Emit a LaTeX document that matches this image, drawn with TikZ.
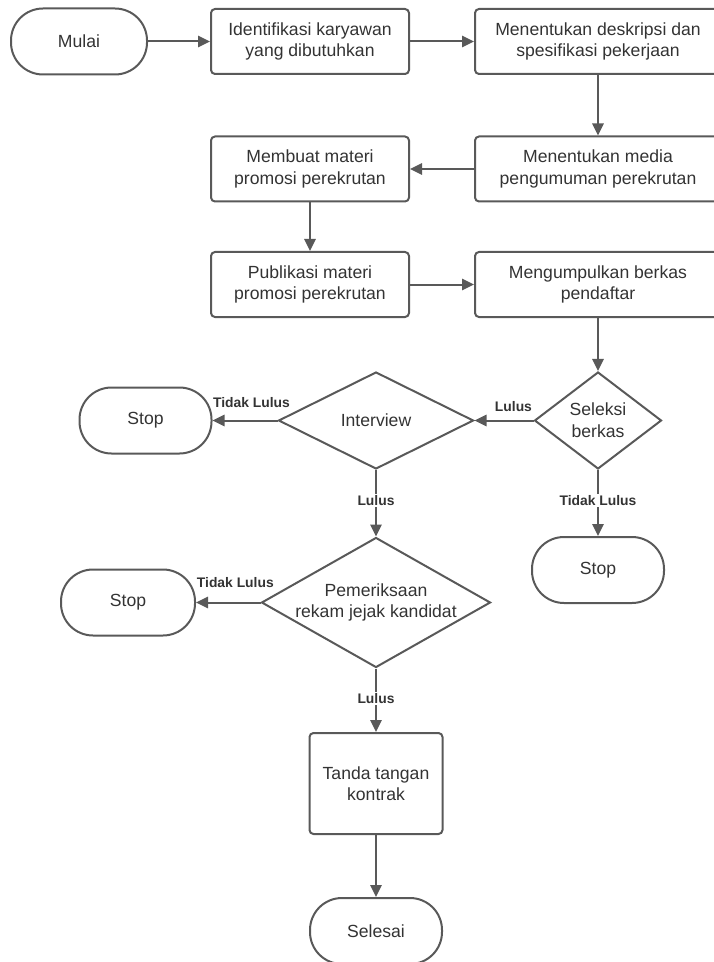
\documentclass[tikz,border=0pt]{standalone}
\usepackage{fontspec}
\setmainfont{Liberation Sans}
\usepackage{tikz}
\usetikzlibrary{shapes.geometric}
\usetikzlibrary{arrows.meta}
\definecolor{garis}{HTML}{595959}
\definecolor{teks}{HTML}{333333}

\begin{document}
\begin{tikzpicture}[
x=0.75pt,y=-0.75pt,
kotak/.style={draw=garis,line width=1.5pt,text=teks,align=center,inner sep=0pt,font=\fontsize{13.2}{16.2}\selectfont},
term/.style={kotak,rectangle,rounded corners=24pt,minimum width=99pt,minimum height=49.5pt},
proses/.style={kotak,rectangle,rounded corners=3pt,minimum width=148.5pt,minimum height=48.75pt},
lebar/.style={proses,minimum width=184.5pt},
putusan/.style={kotak,diamond,aspect=1.6},
lbl/.style={text=teks,inner sep=1pt,font=\bfseries\fontsize{10.4}{12}\selectfont},
panah/.style={draw=garis,line width=1.5pt,-{Triangle[length=9pt,width=8.5pt]}},
]
\useasboundingbox (0,0) rectangle (713,962);

% baris atas
\node[term,minimum width=102pt] (mulai) at (79,41.5) {Mulai};
\node[proses] (ident) at (310,41.5) {Identifikasi karyawan\\yang dibutuhkan};
\node[lebar] (desk) at (598,41.5) {Menentukan deskripsi dan\\spesifikasi pekerjaan};
\node[lebar] (media) at (598,169) {Menentukan media\\pengumuman perekrutan};
\node[proses] (buat) at (310,169) {Membuat materi\\promosi perekrutan};
\node[proses] (publik) at (310,284.5) {Publikasi materi\\promosi perekrutan};
\node[lebar] (kumpul) at (598,284.5) {Mengumpulkan berkas\\pendaftar};

% seleksi
\node[putusan,minimum width=95.25pt,minimum height=72.75pt] (seleksi) at (598,420.5) {Seleksi\\berkas};
\node[putusan,minimum width=146.25pt,minimum height=72.75pt] (interview) at (376,420.5) {Interview};
\node[term] (stopa) at (145.5,420.5) {Stop};
\node[term] (stopb) at (598,570) {Stop};
\node[putusan,aspect=1.76,minimum width=171.75pt,minimum height=97.5pt] (periksa) at (376,602.5) {Pemeriksaan\\rekam jejak kandidat};
\node[term,minimum width=100.5pt] (stopc) at (128,602.5) {Stop};
\node[proses,minimum width=99.75pt,minimum height=75.75pt] (kontrak) at (376,783.5) {Tanda tangan\\kontrak};
\node[term] (selesai) at (376,931) {Selesai};

\draw[panah] (mulai) -- (ident);
\draw[panah] (ident) -- (desk);
\draw[panah] (desk) -- (media);
\draw[panah] (media) -- (buat);
\draw[panah] (buat) -- (publik);
\draw[panah] (publik) -- (kumpul);
\draw[panah] (kumpul) -- (seleksi);
\draw[panah] (seleksi) -- node[lbl,above=5pt,pos=0.34] {Lulus} (interview);
\draw[panah] (seleksi) -- node[lbl,fill=white,pos=0.46] {Tidak Lulus} (stopb);
\draw[panah] (interview) -- node[lbl,above=8pt,pos=0.40] {Tidak Lulus} (stopa);
\draw[panah] (interview) -- node[lbl,fill=white,pos=0.46] {Lulus} (periksa);
\draw[panah] (periksa) -- node[lbl,above=9.5pt,pos=0.39] {Tidak Lulus} (stopc);
\draw[panah] (periksa) -- node[lbl,fill=white,pos=0.47] {Lulus} (kontrak);
\draw[panah] (kontrak) -- (selesai);
\end{tikzpicture}
\end{document}
